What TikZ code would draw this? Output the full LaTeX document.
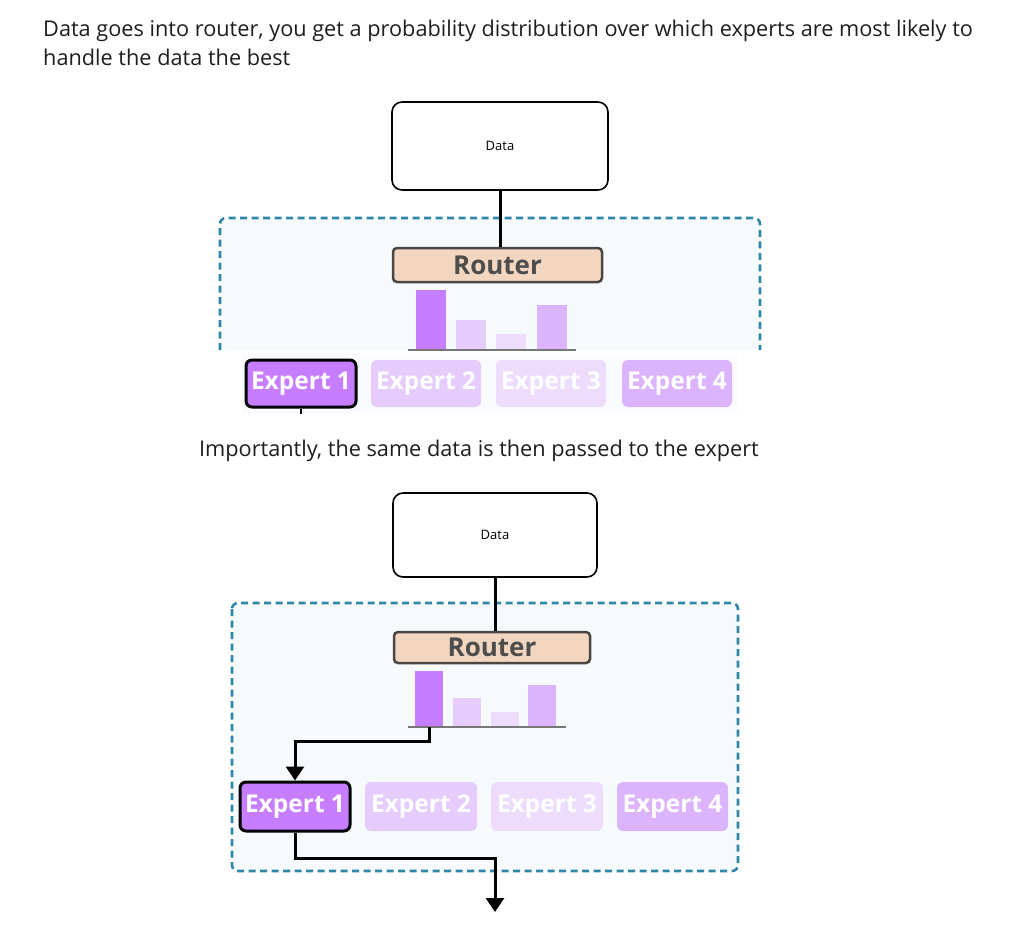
\documentclass[tikz,border=0pt]{standalone}
\usepackage{fontspec}
\setmainfont{Open Sans}
\usetikzlibrary{arrows.meta}
\definecolor{ramka}{HTML}{2F87A7}
\definecolor{tlo}{HTML}{F6FAFD}
\definecolor{tlowiersz}{HTML}{F9FBFE}
\definecolor{rtrfill}{HTML}{F2D6C0}
\definecolor{rtrline}{HTML}{4B4543}
\definecolor{rtrtext}{HTML}{4D4D4D}
\definecolor{fiol}{HTML}{C77DFF}
\definecolor{fiolb}{HTML}{E5CCFC}
\definecolor{fiolc}{HTML}{EEDCFD}
\definecolor{fiold}{HTML}{DCB3FD}
\definecolor{os}{HTML}{777777}
\definecolor{tekst}{HTML}{1E1E1E}

\begin{document}
\begin{tikzpicture}[
  x=1pt, y=-1pt,
  font=\fontsize{21.7}{29}\selectfont,
  opis/.style={text=tekst, inner sep=0},
  box/.style={draw, line width=1.6pt, rounded corners=10pt, inner sep=0,
    font=\fontsize{13}{15}\selectfont},
  rtr/.style={draw=rtrline, fill=rtrfill, line width=2.5pt, rounded corners=4pt,
    inner sep=0, text=rtrtext, font=\fontsize{26}{28}\selectfont\bfseries},
  bar/.style={anchor=south, inner sep=0},
  expert/.style={rounded corners=6pt, minimum width=110pt, inner sep=0,
    text=white, font=\fontsize{24.5}{26}\selectfont\bfseries},
  grupa/.style={draw=ramka, fill=tlo, line width=2.6pt, dash pattern=on 7pt off 4.5pt,
    rounded corners=6pt},
  wire/.style={line width=3pt},
  tip/.style={-{Triangle[width=18pt,length=14pt]}},
]
\useasboundingbox (0,0) rectangle (1009,950);
% Opis gorny
\node[opis, anchor=north west, align=left] (txt1) at (43,20)
  {Data goes into router, you get a probability distribution over which experts are most likely to\\handle the data the best};
% Panel 1
\path[grupa] (220,350) |- (760,218) -- (760,350);
\fill[tlowiersz] (242,353) rectangle (737,413);
\node[box, minimum width=216pt, minimum height=88pt] (data1) at (500,146) {Data};
\node[rtr, minimum width=209pt, minimum height=34pt] (router1) at (497.5,265) {Router};
\draw[wire] (data1.south) -- (data1.south |- router1.north);
\node[bar, fill=fiol,  minimum width=30pt, minimum height=60pt] (b11) at (431,350) {};
\node[bar, fill=fiolb, minimum width=30pt, minimum height=30pt] (b12) at (471,350) {};
\node[bar, fill=fiolc, minimum width=30pt, minimum height=16pt] (b13) at (511,350) {};
\node[bar, fill=fiold, minimum width=30pt, minimum height=45pt] (b14) at (551.5,350) {};
\draw[os, line width=2.5pt] (408,350) -- (576,350);
\node[expert, fill=fiol, draw=black, line width=3pt, minimum height=47pt] (e11) at (301,383.5) {Expert 1};
\node[expert, fill=fiolb, minimum height=47pt] (e12) at (426,383.5) {Expert 2};
\node[expert, fill=fiolc, minimum height=47pt] (e13) at (551,383.5) {Expert 3};
\node[expert, fill=fiold, minimum height=47pt] (e14) at (677,383.5) {Expert 4};
\coordinate (t1) at (301,414);
\draw[line width=2.5pt] (e11.south) -- (t1);
% Opis srodkowy
\node[opis] (txt2) at (479,451) {Importantly, the same data is then passed to the expert};
% Panel 2
\path[grupa] (232,603) rectangle (738,871);
\node[box, minimum width=204pt, minimum height=84pt] (data2) at (495,535) {Data};
\node[rtr, minimum width=196pt, minimum height=31pt] (router2) at (492,647.5) {Router};
\draw[wire] (data2.south) -- (data2.south |- router2.north);
\node[bar, fill=fiol,  minimum width=28pt, minimum height=56pt] (b21) at (429,727) {};
\node[bar, fill=fiolb, minimum width=28pt, minimum height=29pt] (b22) at (467,727) {};
\node[bar, fill=fiolc, minimum width=28pt, minimum height=15pt] (b23) at (505,727) {};
\node[bar, fill=fiold, minimum width=28pt, minimum height=42pt] (b24) at (542,727) {};
\draw[os, line width=2.5pt] (408,727) -- (566,727);
\node[expert, fill=fiol, draw=black, line width=3pt, minimum height=49pt] (e21) at (295,806.5) {Expert 1};
\node[expert, fill=fiolb, minimum width=112pt, minimum height=49pt] (e22) at (421,806.5) {Expert 2};
\node[expert, fill=fiolc, minimum width=112pt, minimum height=49pt] (e23) at (547,806.5) {Expert 3};
\node[expert, fill=fiold, minimum width=111pt, minimum height=49pt] (e24) at (672.5,806.5) {Expert 4};
\draw[wire, tip] (b21.south) -- ++(0,14) -| (e21.north);
\coordinate (wyj) at (495,912);
\draw[wire, tip] (e21.south) -- ++(0,26) -| (wyj);
\end{tikzpicture}
\end{document}
